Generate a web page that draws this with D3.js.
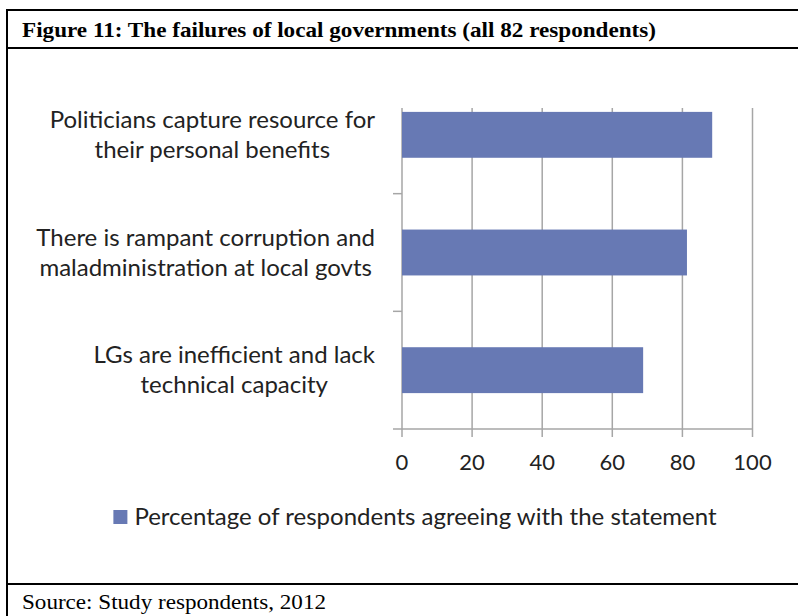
<!DOCTYPE html>
<html>
<head>
<meta charset="utf-8">
<script src="https://cdn.jsdelivr.net/npm/d3@7"></script>
<style>
  html, body { margin: 0; padding: 0; background: #fff; }
  svg { display: block; }
</style>
</head>
<body>
<svg id="chart" width="798" height="616"></svg>
<script>
const categories = [
  ["Politicians capture resource for", "their personal benefits"],
  ["There is rampant corruption and", "maladministration at local govts"],
  ["LGs are inefficient and lack", "technical capacity"]
];
const values = [88.5, 81.3, 68.8];
const xTicks = [0, 20, 40, 60, 80, 100];
const seriesName = "Percentage of respondents agreeing with the statement";
const titleText = "Figure 11: The failures of local governments (all 82 respondents)";
const sourceText = "Source: Study respondents, 2012";

const svg = d3.select("#chart");
const barColor = "#6779b4";
const gridColor = "#a6a6a6";
const labelFont = "Lato, 'Open Sans', sans-serif";
const textColor = "#222";

function fitWidth(sel, target) {
  sel.attr("textLength", target).attr("lengthAdjust", "spacingAndGlyphs");
}

// frame
svg.append("line").attr("x1", 7).attr("x2", 7).attr("y1", 9).attr("y2", 616)
  .attr("stroke", "#000").attr("stroke-width", 2);
[10, 48, 584].forEach(y => {
  svg.append("line").attr("x1", 6).attr("x2", 798).attr("y1", y).attr("y2", y)
    .attr("stroke", "#000").attr("stroke-width", 2);
});

const title = svg.append("text").attr("x", 22).attr("y", 37)
  .attr("font-family", "'Liberation Serif', 'Times New Roman', serif")
  .attr("font-weight", "bold").attr("font-size", 22).attr("fill", "#000")
  .text(titleText);
fitWidth(title, 634);

const source = svg.append("text").attr("x", 22).attr("y", 609)
  .attr("font-family", "'Liberation Serif', 'Times New Roman', serif")
  .attr("font-size", 22).attr("fill", "#000")
  .text(sourceText);
fitWidth(source, 304);

// scales
const x = d3.scaleLinear().domain([0, 100]).range([402, 752.5]);
const y = d3.scaleBand().domain(d3.range(categories.length))
  .range([76, 429]).paddingInner(0.61).paddingOuter(0.305);

const plotTop = 108;
const axisY = 429;

// vertical gridlines
svg.append("g").selectAll("line").data(xTicks).join("line")
  .attr("x1", d => x(d)).attr("x2", d => x(d))
  .attr("y1", plotTop).attr("y2", axisY + 8)
  .attr("stroke", gridColor).attr("stroke-width", 1.5);

// x axis line
svg.append("line").attr("x1", x(0) - 9).attr("x2", x(100))
  .attr("y1", axisY).attr("y2", axisY)
  .attr("stroke", gridColor).attr("stroke-width", 1.5);

// category boundary ticks
const boundaries = d3.range(categories.length).map(i => y(i) - y.step() * y.paddingInner() / 2);
svg.append("g").selectAll("line").data(boundaries.filter(b => b > plotTop)).join("line")
  .attr("x1", x(0) - 9).attr("x2", x(0))
  .attr("y1", d => d).attr("y2", d => d)
  .attr("stroke", gridColor).attr("stroke-width", 1.5);

// bars
svg.append("g").selectAll("rect").data(values).join("rect")
  .attr("x", x(0)).attr("y", (d, i) => y(i))
  .attr("width", d => x(d) - x(0)).attr("height", y.bandwidth())
  .attr("fill", barColor);

// x tick labels
svg.append("g").selectAll("text").data(xTicks).join("text")
  .attr("x", d => x(d)).attr("y", 470)
  .attr("text-anchor", "middle")
  .attr("font-family", labelFont).attr("font-size", 22).attr("fill", textColor)
  .text(d => d);

// category labels (block right-aligned, lines centered)
const rightEdge = 375;
categories.forEach((lines, i) => {
  const cy = y(i) + y.bandwidth() / 2;
  const g = svg.append("g");
  const texts = lines.map((ln, j) => g.append("text")
    .attr("y", cy + (j - (lines.length - 1) / 2) * 30 + 8)
    .attr("font-family", labelFont).attr("font-size", 24).attr("fill", textColor)
    .attr("text-anchor", "middle")
    .text(ln));
  const maxW = d3.max(texts, t => t.node().getComputedTextLength());
  texts.forEach(t => t.attr("x", rightEdge - maxW / 2));
});

// legend
const legendG = svg.append("g");
const legText = legendG.append("text").attr("y", 525)
  .attr("font-family", labelFont).attr("font-size", 24).attr("fill", textColor)
  .text(seriesName);
const lw = legText.node().getComputedTextLength();
const totalW = 14 + 7 + lw;
const lx = (114 + 716) / 2 - totalW / 2;
legendG.append("rect").attr("x", lx).attr("y", 510).attr("width", 14).attr("height", 14).attr("fill", barColor);
legText.attr("x", lx + 21);
</script>
</body>
</html>
